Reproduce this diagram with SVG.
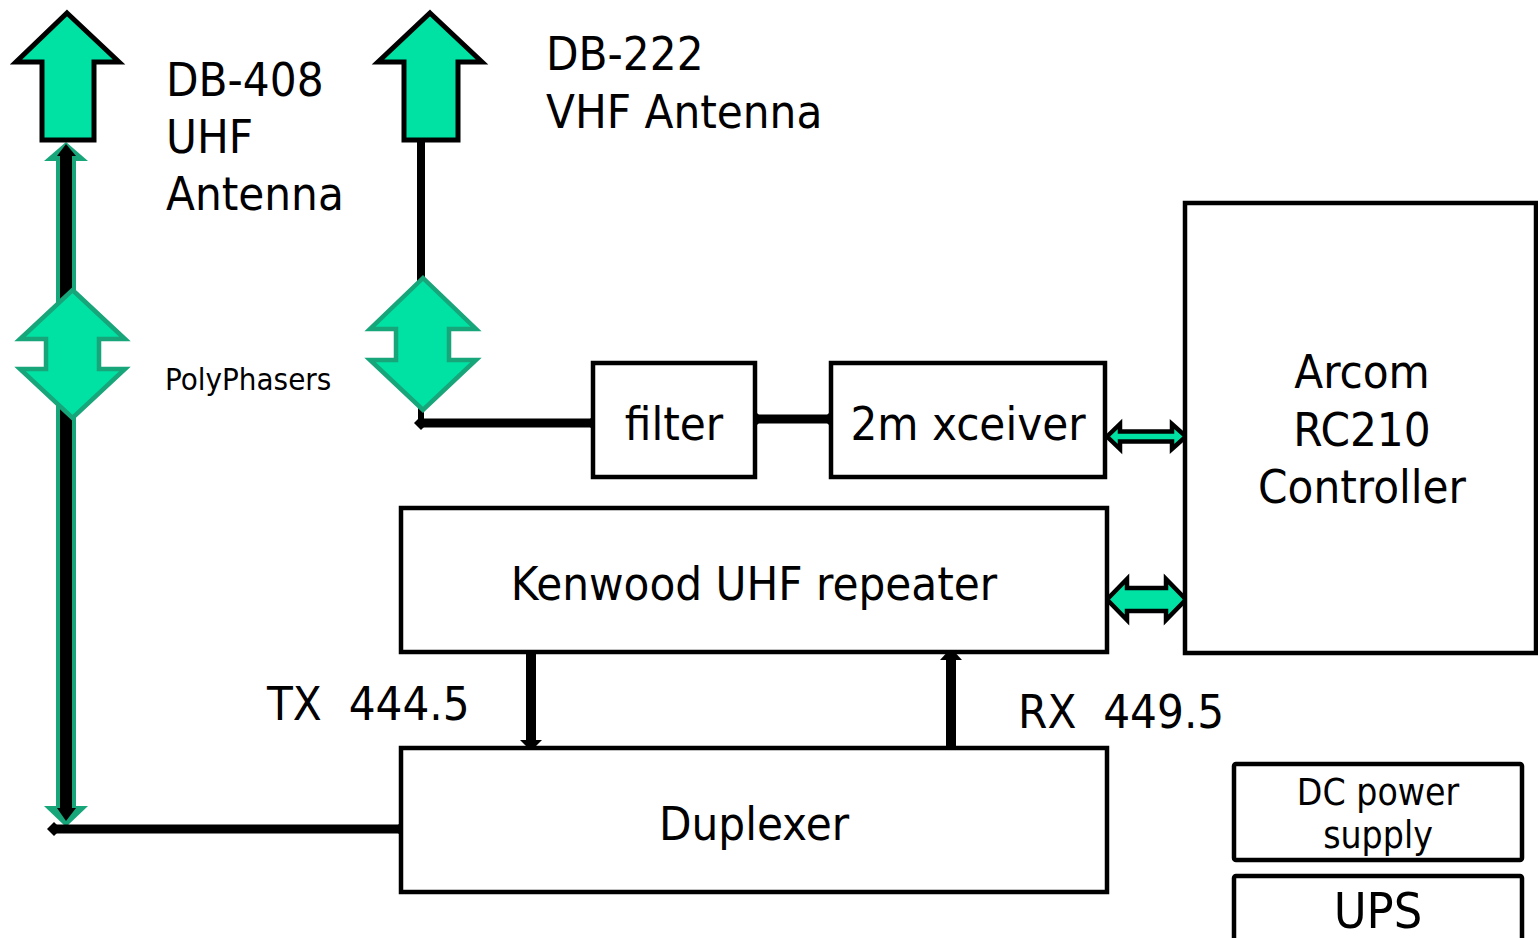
<svg xmlns="http://www.w3.org/2000/svg" width="1538" height="938" viewBox="0 0 1538 938">
<style>
.box{fill:#fff;stroke:#000;stroke-width:4.5}
.t{font-family:"DejaVu Sans Condensed","DejaVu Sans",sans-serif;fill:#000}
.ant{fill:#00E2A4;stroke:#000;stroke-width:5;stroke-linejoin:miter}
.pp{fill:#00E2A4;stroke:#17A57A;stroke-width:4.5;stroke-linejoin:miter}
.ba{fill:#00E2A4;stroke:#000;stroke-width:4.5;stroke-linejoin:miter}
</style>
<rect width="1538" height="938" fill="#fff"/>
<g id="connectors">
  <!-- left UHF feed line -->
  <rect x="56" y="158" width="20" height="648" fill="#17A57A"/>
  <polygon points="66,142 44,161 88,161" fill="#17A57A"/>
  <polygon points="66,827 44,806 88,806" fill="#17A57A"/>
  <rect x="60" y="154" width="12" height="656" fill="#000"/>
  <polygon points="66,144 57,156 76,156" fill="#000"/>
  <polygon points="66,821 57,808 76,808" fill="#000"/>
  <!-- left horizontal to duplexer -->
  <line x1="54" y1="829" x2="400" y2="829" stroke="#000" stroke-width="9"/>
  <polygon points="54,822 61,829 54,836 47,829" fill="#000"/>
  <polygon points="400,823 406,829 400,835 394,829" fill="#000"/>
  <!-- VHF feed line -->
  <rect x="417" y="138" width="8" height="145" fill="#000"/>
  <line x1="421" y1="405" x2="421" y2="423" stroke="#000" stroke-width="6"/>
  <line x1="421" y1="423" x2="592" y2="423" stroke="#000" stroke-width="9"/>
  <polygon points="421,416 428,423 421,430 414,423" fill="#000"/>
  <polygon points="592,417 598,423 592,429 586,423" fill="#000"/>
  <!-- filter to xceiver -->
  <line x1="757" y1="419" x2="829" y2="419" stroke="#000" stroke-width="9"/>
  <polygon points="757,413 763,419 757,425 751,419" fill="#000"/>
  <polygon points="829,413 835,419 829,425 823,419" fill="#000"/>
  <!-- xceiver <-> Arcom -->
  <polygon class="ba" points="1107,436.5 1120,424 1120,431.5 1172,431.5 1172,424 1186,436.5 1172,449 1172,441.5 1120,441.5 1120,449"/>
  <!-- Kenwood <-> Arcom -->
  <polygon class="ba" points="1107,599.5 1127,579 1127,588 1166,588 1166,579 1186,599.5 1166,620 1166,611 1127,611 1127,620"/>
  <!-- TX down -->
  <rect x="526" y="652" width="10" height="90" fill="#000"/>
  <polygon points="520,740 542,740 531,751" fill="#000"/>
  <!-- RX up -->
  <rect x="946" y="658" width="10" height="90" fill="#000"/>
  <polygon points="940,660 962,660 951,648" fill="#000"/>
</g>
<g id="uhf-antenna">
  <polygon class="ant" points="67,13 119,62 94,62 94,140 42,140 42,62 16,62"/>
</g>
<g id="vhf-antenna">
  <polygon class="ant" points="430,13 482,62 458,62 458,140 404,140 404,62 378,62"/>
</g>
<g id="polyphaser-left">
  <polygon class="pp" points="72.5,290 125,339 99,339 99,369 125,369 72.5,418 20,369 46,369 46,339 20,339"/>
</g>
<g id="polyphaser-right">
  <polygon class="pp" points="423,278 476,329 449,329 449,360 476,360 423,410 370,360 396,360 396,329 370,329"/>
</g>
<g id="labels">
  <text class="t" x="166" y="96" font-size="47">DB-408</text>
  <text class="t" x="166" y="153" font-size="47">UHF</text>
  <text class="t" x="166" y="210" font-size="47">Antenna</text>
  <text class="t" x="546" y="70" font-size="47">DB-222</text>
  <text class="t" x="546" y="128" font-size="47">VHF Antenna</text>
  <text class="t" x="165" y="390" font-size="31">PolyPhasers</text>
  <text class="t" x="267" y="720" font-size="47" xml:space="preserve">TX  444.5</text>
  <text class="t" x="1018" y="728" font-size="47" xml:space="preserve">RX  449.5</text>
</g>
<g id="filter">
  <rect class="box" x="593" y="363" width="162" height="114"/>
  <text class="t" x="674" y="440" font-size="47" text-anchor="middle">filter</text>
</g>
<g id="xceiver">
  <rect class="box" x="831" y="363" width="274" height="114"/>
  <text class="t" x="968" y="440" font-size="47" text-anchor="middle">2m xceiver</text>
</g>
<g id="arcom">
  <rect class="box" x="1185" y="203" width="351" height="450"/>
  <text class="t" x="1362" y="388" font-size="47" text-anchor="middle">Arcom</text>
  <text class="t" x="1362" y="446" font-size="47" text-anchor="middle">RC210</text>
  <text class="t" x="1362" y="503" font-size="47" text-anchor="middle">Controller</text>
</g>
<g id="kenwood">
  <rect class="box" x="401" y="508" width="706" height="144"/>
  <text class="t" x="754" y="600" font-size="47" text-anchor="middle">Kenwood UHF repeater</text>
</g>
<g id="duplexer">
  <rect class="box" x="401" y="748" width="706" height="144"/>
  <text class="t" x="754" y="840" font-size="47" text-anchor="middle">Duplexer</text>
</g>
<g id="dc-power">
  <rect class="box" x="1234" y="764" width="288" height="96" rx="2"/>
  <text class="t" x="1378" y="805" font-size="37" text-anchor="middle">DC power</text>
  <text class="t" x="1378" y="848" font-size="37" text-anchor="middle">supply</text>
</g>
<g id="ups">
  <rect class="box" x="1234" y="876" width="288" height="80" rx="2"/>
  <text class="t" x="1378" y="928" font-size="50" text-anchor="middle">UPS</text>
</g>
</svg>
